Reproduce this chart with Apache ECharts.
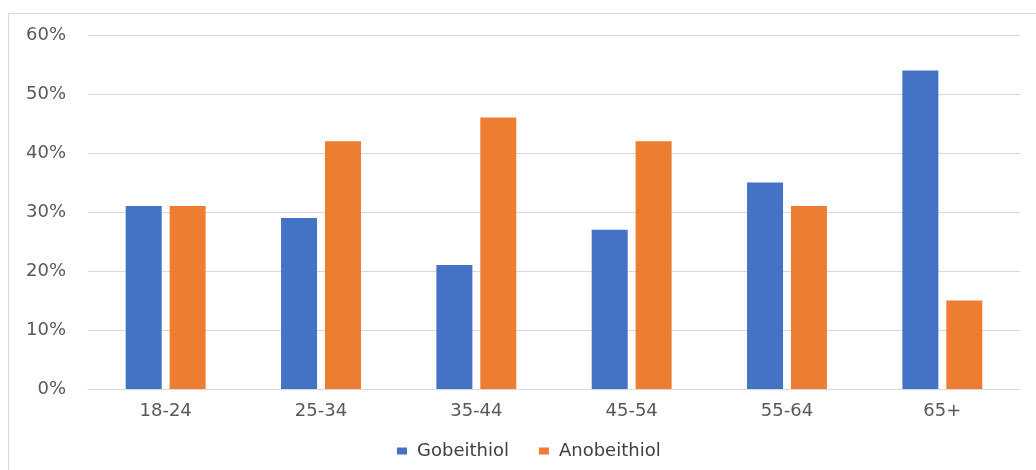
<!DOCTYPE html>
<html>
<head>
<meta charset="utf-8">
<style>
  html, body { margin: 0; padding: 0; background: #fff; }
  #chart { width: 1036px; height: 470px; }
</style>
<script src="https://cdn.jsdelivr.net/npm/echarts@6/dist/echarts.min.js"></script>
</head>
<body>
<div id="chart"></div>
<script>
// Age groups and the share of each answer (%)
const ageGroups = ['18-24', '25-34', '35-44', '45-54', '55-64', '65+'];
const gobeithiol = [31, 29, 21, 27, 35, 54];
const anobeithiol = [31, 42, 46, 42, 31, 15];
const yTicks = { min: 0, max: 60, interval: 10 };

const chart = echarts.init(document.getElementById('chart'), null, { renderer: 'canvas' });

const labelFont = 'DejaVu Sans';
const gridColor = '#d9d9d9';

chart.setOption({
  animation: false,
  backgroundColor: '#ffffff',
  graphic: [{
    type: 'rect',
    shape: { x: 8.5, y: 13.5, width: 1200, height: 600 },
    style: { fill: 'none', stroke: gridColor, lineWidth: 1 },
    silent: true
  }],
  grid: { left: 88, right: 16, top: 35, bottom: 81, containLabel: false },
  legend: {
    left: 392,
    top: 437,
    itemWidth: 10,
    itemHeight: 7,
    itemGap: 30,
    icon: 'rect',
    textStyle: { fontFamily: labelFont, fontSize: 18, color: '#404040', padding: [0, 0, 0, 5] },
    data: ['Gobeithiol', 'Anobeithiol']
  },
  xAxis: {
    type: 'category',
    data: ageGroups,
    axisLine: { lineStyle: { color: gridColor, width: 1 } },
    axisTick: { show: false },
    axisLabel: { fontFamily: labelFont, fontSize: 18, color: '#595959', margin: 13 }
  },
  yAxis: {
    type: 'value',
    min: yTicks.min,
    max: yTicks.max,
    interval: yTicks.interval,
    axisLine: { show: false },
    axisTick: { show: false },
    splitLine: { lineStyle: { color: gridColor, width: 1 } },
    axisLabel: { fontFamily: labelFont, fontSize: 18, color: '#595959', margin: 22, formatter: '{value}%' }
  },
  series: [
    {
      name: 'Gobeithiol',
      type: 'bar',
      data: gobeithiol,
      barWidth: 36,
      barGap: '22%',
      itemStyle: { color: '#4472c4' }
    },
    {
      name: 'Anobeithiol',
      type: 'bar',
      data: anobeithiol,
      barWidth: 36,
      barGap: '22%',
      itemStyle: { color: '#ed7d31' }
    }
  ]
});
</script>
</body>
</html>
